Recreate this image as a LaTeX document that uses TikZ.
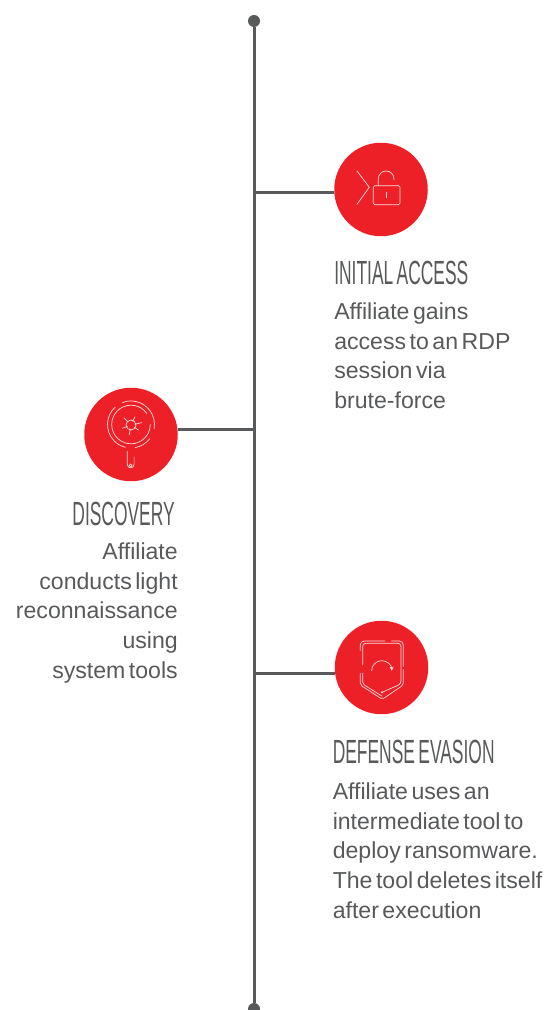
\documentclass[tikz,border=0pt]{standalone}
\usepackage{fontspec}
\usetikzlibrary{arrows.meta,positioning}
\setmainfont[WordSpace=0.55]{Liberation Sans}
\newfontfamily\headfont[FakeStretch=0.52,WordSpace=0.7]{Liberation Sans}
\definecolor{timeline}{HTML}{58595B}
\definecolor{badge}{HTML}{EE2027}

\begin{document}
\begin{tikzpicture}[x=1pt, y=1pt]

\tikzstyle{stepcircle} = [circle, fill=badge, minimum size=93.5pt, inner sep=0pt]
\tikzstyle{title} = [inner sep=0pt, text=timeline, font=\headfont\fontsize{33.5}{36}\selectfont]
\tikzstyle{bodyleft} = [inner sep=0pt, text=timeline, align=left, font=\fontsize{23.1}{29.7}\selectfont]
\tikzstyle{bodyright} = [inner sep=0pt, text=timeline, align=right, font=\fontsize{23.1}{29.7}\selectfont]
\tikzstyle{line} = [draw=timeline, line width=3pt]
\tikzstyle{dot} = [circle, fill=timeline, minimum size=12pt, inner sep=0pt]
\tikzstyle{icon} = [draw=white!85!badge, line width=0.7pt, line cap=round, line join=round]

\useasboundingbox (0,0) rectangle (547,1010);

% Spine
\node[dot] (top) at (254,989) {};
\node[dot] (bottom) at (254,1) {};
\draw[line] (top) -- (bottom);

% Steps
\node[stepcircle] (access) at (381,820.5) {};
\node[stepcircle] (discovery) at (131,575.5) {};
\node[stepcircle] (evasion) at (381.5,342.5) {};

\coordinate (accessjoin) at (254,817.7);
\coordinate (discoveryjoin) at (254,580.7);
\coordinate (evasionjoin) at (254,336.7);
\draw[line] (accessjoin) -- (accessjoin -| access.west);
\draw[line] (discoveryjoin) -- (discoveryjoin -| discovery.east);
\draw[line] (evasionjoin) -- (evasionjoin -| evasion.west);

% Labels
\node[title, below right=24pt and 0pt of access.west |- access.south] (accesstitle) {INITIAL ACCESS};
\node[bodyleft, below right=18pt and 0pt of accesstitle.south west] (accessbody) {Affiliate gains\\access to an RDP\\session via\\brute-force};

\node[title, below left=20pt and 3pt of discovery.east |- discovery.south] (discoverytitle) {DISCOVERY};
\node[bodyright, below left=17pt and -3pt of discoverytitle.south east] (discoverybody) {Affiliate\\conducts light\\reconnaissance\\using\\system tools};

\node[title, below right=25pt and -2pt of evasion.west |- evasion.south] (evasiontitle) {DEFENSE EVASION};
\node[bodyleft, below right=19pt and 0pt of evasiontitle.south west] (evasionbody) {Affiliate uses an\\intermediate tool to\\deploy ransomware.\\The tool deletes itself\\after execution};

% Lock icon
\begin{scope}[shift={(access.center)}]
\draw[icon] (-24,18.5) -- (-11.7,2.2) -- (-24,-14.8);
\draw[icon, rounded corners=1.5pt] (-7.7,3.8) rectangle (19,-15.2);
\draw[icon] (-2.7,3.8) -- (-2.7,10.7) arc (180:0:7.8) -- (12.9,9.5);
\draw[icon] (5.3,-2.8) -- (5.3,-8.2);
\end{scope}

% Bug icon
\begin{scope}[shift={(discovery.center)}]
\draw[icon] (0,10) ++(-10:23.5) arc (-10:111:23.5);
\draw[icon] (0,10) ++(132:23.5) arc (132:256:23.5);
\draw[icon] (0,10) ++(-38:23.5) arc (-38:-80:23.5);
\draw[icon] (0,10) ++(35:19.3) arc (35:360:19.3);
\draw[icon] (0,9.5) circle (5);
\foreach \a/\l in {135/10,64/9,12/11,201/9.3,260/10,-34/9}
  \draw[icon] (0,9.5) ++(\a:4) -- ++(\a:\l-4);
\draw[icon] (-3.7,-16.7) -- (-3.7,-30) arc (180:360:3.4) -- (3.1,-22.5);
\draw[icon] (-0.3,-31) circle (1.5);
\end{scope}

% Shield icon
\begin{scope}[shift={(evasion.center)}]
\draw[icon, rounded corners=4pt] (-21.2,17) -- (-21.2,26.5) -- (3.5,26.5);
\draw[icon, rounded corners=4pt] (10,26.5) -- (21.8,26.5) -- (21.8,0.8);
\draw[icon, rounded corners=2pt] (-21.2,-5.8) -- (-21.2,-17.5) -- (0.8,-31.8) -- (21.8,-17.5) -- (21.8,-2);
\draw[icon, rounded corners=3pt] (-18.8,2.5) -- (-18.8,24.2) -- (19.5,24.2) -- (19.5,-16.5) -- (0.5,-24.8);
\draw[icon, rounded corners=2pt] (-18.8,-5.8) -- (-18.8,-16.5) -- (0.2,-28.5);
\fill[white] (0.5,-24.8) circle (1);
\draw[icon, -{Stealth[length=4pt,width=4pt]}] (-9.8,-3.2) arc (180:0:10);
\end{scope}

\end{tikzpicture}
\end{document}
